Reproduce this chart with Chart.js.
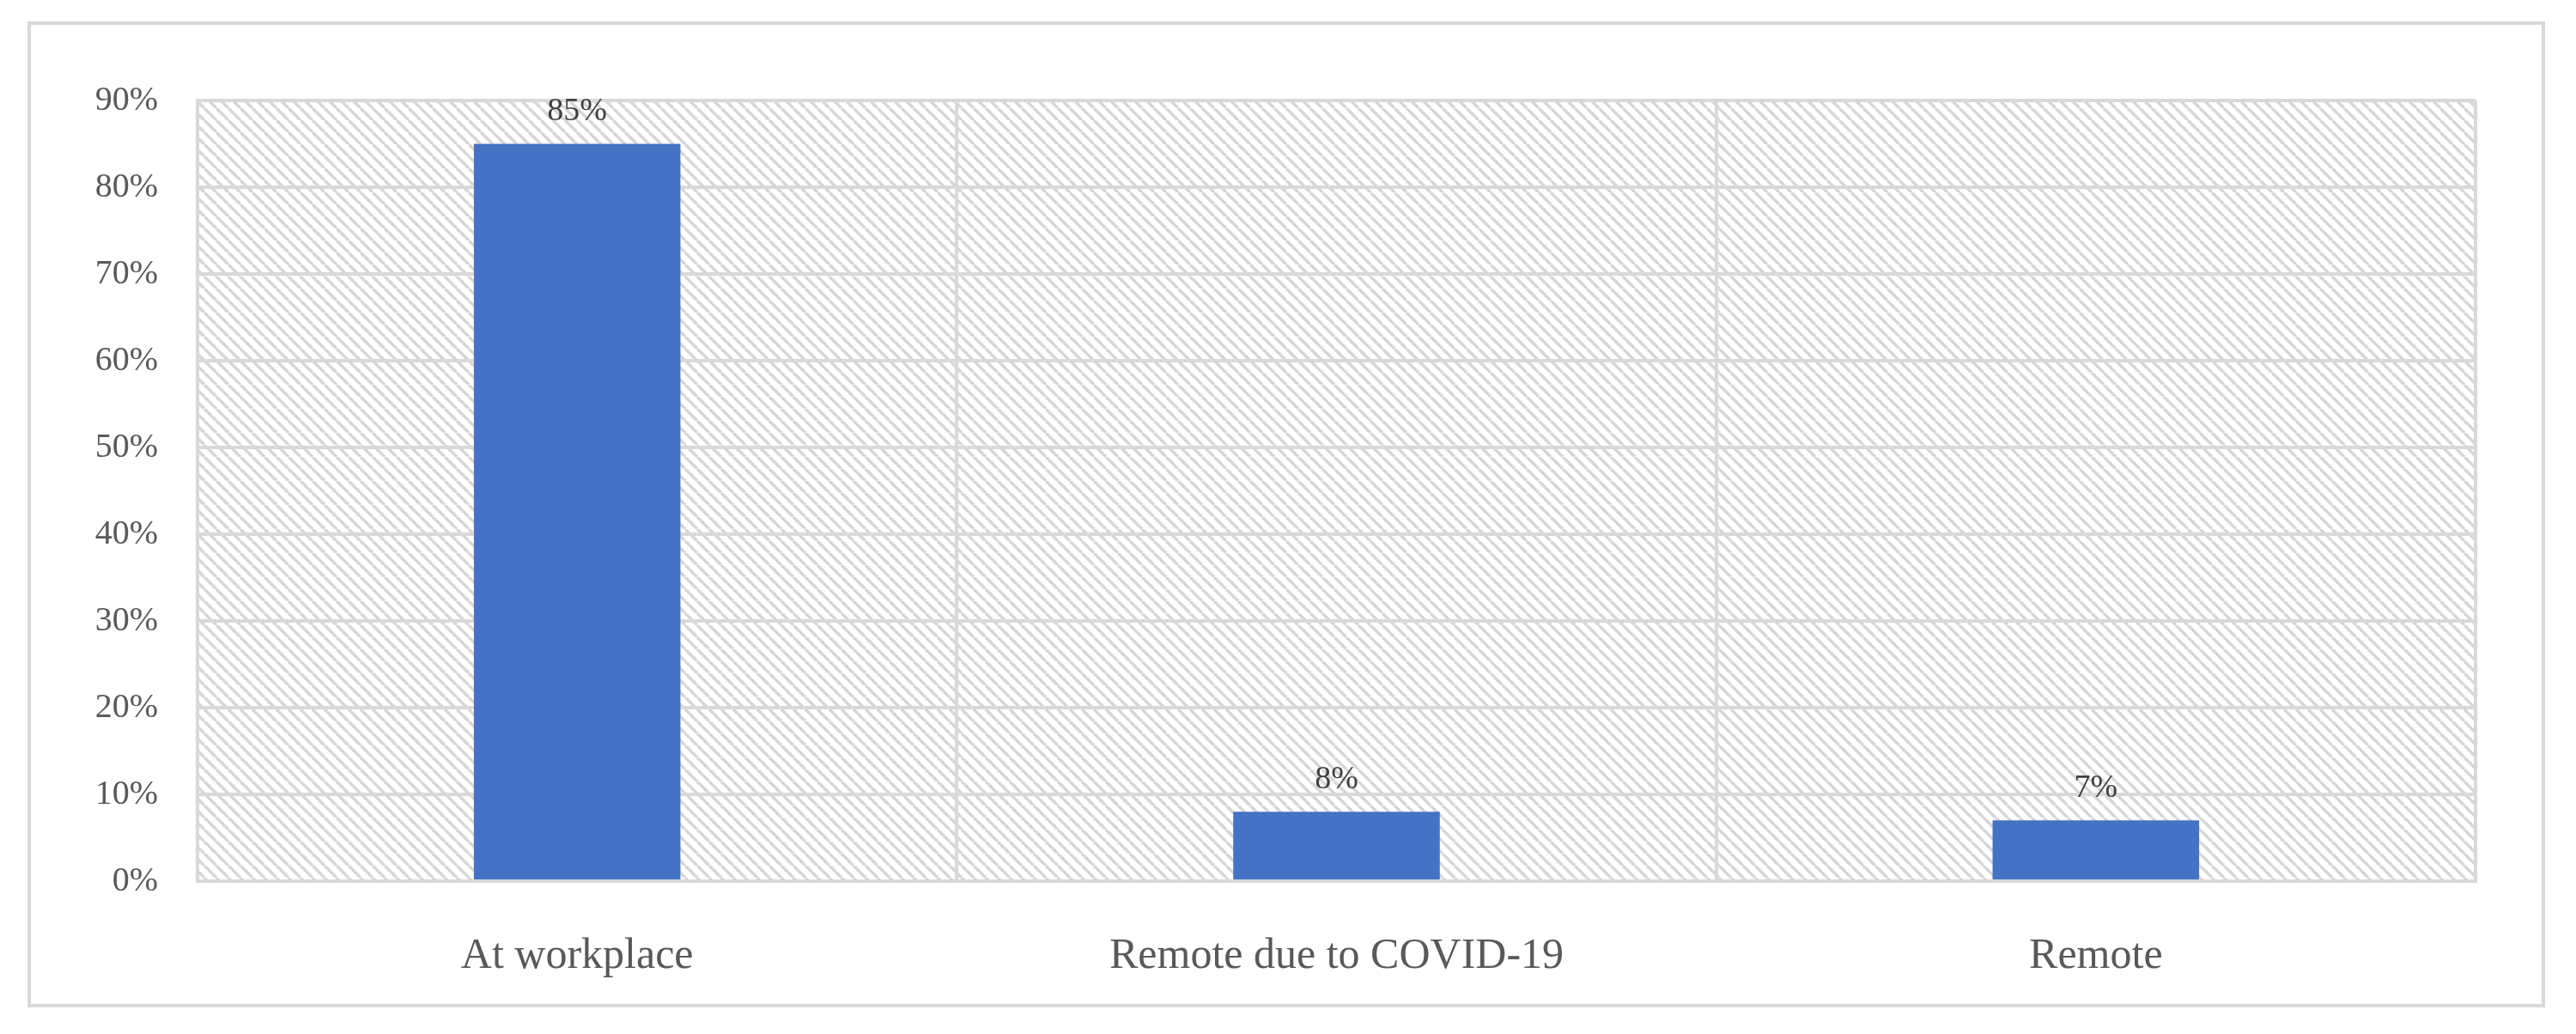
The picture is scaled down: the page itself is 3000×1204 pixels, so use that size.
<!DOCTYPE html>
<html><head><meta charset="utf-8">
<script src="https://cdn.jsdelivr.net/npm/chart.js@4"></script>
<style>html,body{margin:0;padding:0;background:#fff}#c{display:block}</style>
</head><body>
<div style="width:3000px;height:1204px"><canvas id="c" width="3000" height="1204"></canvas></div>
<script>
const categories = ["At workplace", "Remote due to COVID-19", "Remote"];
const values = [85, 8, 7];
const yTicks = [0,10,20,30,40,50,60,70,80,90];

function hatch(ctx){
  const p=document.createElement('canvas');p.width=14;p.height=14;
  const g=p.getContext('2d');
  g.strokeStyle='#d6d6d6';g.lineWidth=3.5;
  g.beginPath();
  for(const o of [-14,0,14]){g.moveTo(o,0);g.lineTo(o+14,14);}
  g.stroke();
  return ctx.createPattern(p,'repeat');
}
const bgPlugin={id:'bg',
  beforeDraw(ch){const {ctx,chartArea:a}=ch;ctx.save();
    ctx.strokeStyle='#d9d9d9';ctx.lineWidth=4;ctx.strokeRect(34,27,2928,1144);
    ctx.fillStyle=hatch(ctx);ctx.fillRect(a.left,a.top,a.right-a.left,a.bottom-a.top);ctx.restore();},
  afterDatasetsDraw(ch){const {ctx}=ch;const m=ch.getDatasetMeta(0);ctx.save();
    ctx.fillStyle='#404040';ctx.font='38px "Liberation Serif"';ctx.textAlign='center';ctx.textBaseline='bottom';
    m.data.forEach((b,i)=>ctx.fillText(values[i]+'%',b.x,b.y-18));ctx.restore();}
};
new Chart(document.getElementById('c'),{
  type:'bar',
  data:{labels:categories,datasets:[{data:values,backgroundColor:'#4472c4',barPercentage:0.272,categoryPercentage:1}]},
  options:{responsive:false,animation:false,
    layout:{padding:{left:34,top:117,right:117,bottom:33}},
    plugins:{legend:{display:false},tooltip:{enabled:false}},
    scales:{
      x:{afterFit(s){s.height=145;},grid:{color:'#d9d9d9',lineWidth:4,offset:true,drawTicks:false},border:{color:'#d9d9d9',width:4},
        ticks:{color:'#595959',font:{family:'Liberation Serif',size:50},padding:58}},
      y:{min:0,max:90,afterFit(s){s.width=196;},
        afterBuildTicks(s){s.ticks=yTicks.map(v=>({value:v}));},
        grid:{color:'#d9d9d9',lineWidth:4,drawTicks:false},border:{color:'#d9d9d9',width:4},
        ticks:{color:'#595959',font:{family:'Liberation Serif',size:40},padding:46,callback:v=>v+'%'}}
    }},
  plugins:[bgPlugin]
});
</script></body></html>
